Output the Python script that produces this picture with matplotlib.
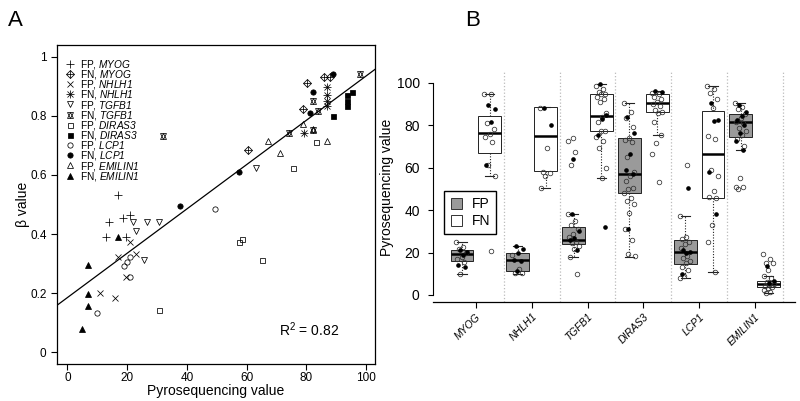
import numpy as np
import matplotlib
matplotlib.use('Agg')
import matplotlib.pyplot as plt
from matplotlib.lines import Line2D
from matplotlib.patches import Patch

plt.rcParams['font.family'] = ['Liberation Sans', 'DejaVu Sans']
plt.rcParams['mathtext.fontset'] = 'custom'
plt.rcParams['mathtext.rm'] = 'Liberation Sans'
plt.rcParams['mathtext.it'] = 'Liberation Sans:italic'
plt.rcParams['mathtext.sf'] = 'Liberation Sans:italic'

genes = ['MYOG', 'NHLH1', 'TGFB1', 'DIRAS3', 'LCP1', 'EMILIN1']

# ---- panel A: pyrosequencing value vs beta value ----
myog_fp_x = [16.9, 13.9, 18.6, 21.0, 13.0, 19.7]
myog_fp_y = [0.532, 0.442, 0.453, 0.464, 0.391, 0.391]
myog_fn_x = [80.1, 86.0, 87.9, 79.0, 60.3]
myog_fn_y = [0.913, 0.933, 0.931, 0.823, 0.685]
nhlh1_fp_x = [20.8, 16.9, 22.8, 19.7, 11.0, 15.8]
nhlh1_fp_y = [0.372, 0.323, 0.334, 0.253, 0.202, 0.184]
nhlh1_fn_x = [86.8, 86.8, 86.8, 86.8, 79.3]
nhlh1_fn_y = [0.899, 0.871, 0.851, 0.834, 0.741]
tgfb1_fp_x = [63.3, 21.9, 26.7, 30.6, 22.8, 25.8]
tgfb1_fp_y = [0.623, 0.442, 0.442, 0.442, 0.411, 0.312]
tgfb1_fn_x = [98.0, 82.3, 84.0, 74.1, 82.3, 32.0]
tgfb1_fn_y = [0.941, 0.851, 0.815, 0.741, 0.753, 0.732]
diras3_fp_x = [83.2, 75.4, 57.5, 58.4, 65.3, 30.6]
diras3_fp_y = [0.712, 0.623, 0.372, 0.382, 0.312, 0.142]
diras3_fn_x = [95.2, 93.7, 93.7, 93.7, 89.0]
diras3_fn_y = [0.882, 0.871, 0.851, 0.832, 0.800]
lcp1_fp_x = [49.3, 20.8, 20.0, 18.9, 20.8, 10.0]
lcp1_fp_y = [0.484, 0.323, 0.304, 0.293, 0.253, 0.133]
lcp1_fn_x = [89.0, 82.3, 81.2, 57.5, 37.8]
lcp1_fn_y = [0.942, 0.881, 0.811, 0.611, 0.495]
emilin1_fp_x = [79.0, 82.3, 86.8, 67.3, 71.1]
emilin1_fp_y = [0.772, 0.755, 0.715, 0.715, 0.673]
emilin1_fn_x = [16.9, 7.0, 7.0, 7.0, 4.9]
emilin1_fn_y = [0.389, 0.295, 0.196, 0.156, 0.077]

fit_intercept = 0.185
fit_slope = 0.0075
r_squared = 0.82

# ---- panel B: box plots per gene ----
fp_q1 = [15.9, 11.5, 23.9, 48.2, 14.6, 74.3]
fp_med = [19.5, 16.3, 26.1, 57.1, 20.4, 81.3]
fp_q3 = [21.0, 19.6, 32.0, 73.8, 25.9, 85.4]
fp_lo = [10.0, 10.0, 18.0, 17.9, 7.9, 68.3]
fp_hi = [24.8, 23.1, 38.2, 90.4, 37.2, 90.4]
fn_q1 = [66.7, 58.3, 77.3, 86.3, 45.7, 3.8]
fn_med = [76.5, 74.7, 84.3, 90.4, 66.3, 5.2]
fn_q3 = [84.3, 88.4, 94.5, 94.5, 86.8, 6.8]
fn_lo = [56.2, 50.3, 55.1, 75.2, 10.8, 1.1]
fn_hi = [94.5, 88.4, 99.4, 96.1, 98.6, 9.0]

# individual samples (open = hollow circle, filled = black dot)
myog_fp_open = [24.8, 22.4, 21.7, 19.6, 18.1, 17.0, 15.5, 10.0]
myog_fp_filled = [21.0, 20.4, 18.8, 14.3, 13.2]
myog_fn_open = [94.5, 94.5, 80.9, 78.2, 75.8, 74.3, 72.2, 61.1, 56.1, 20.9]
myog_fn_filled = [89.5, 87.5, 81.5, 61.1]
nhlh1_fp_open = [18.8, 12.1, 10.2, 10.2]
nhlh1_fp_filled = [22.9, 21.5, 19.9, 16.5, 16.0, 11.3]
nhlh1_fn_open = [88.2, 69.2, 58.1, 57.3, 56.1, 50.3]
nhlh1_fn_filled = [88.2, 80.2]
tgfb1_fp_open = [38.2, 35.0, 32.8, 30.9, 28.6, 27.5, 25.1, 24.3, 23.1, 21.8, 18.0, 9.9,
                 74.1, 72.7, 67.4, 61.1]
tgfb1_fp_filled = [38.2, 30.0, 26.7, 26.1, 21.2, 64.1]
tgfb1_fn_open = [98.6, 97.1, 95.8, 94.5, 94.5, 93.4, 92.2, 91.0, 85.6, 84.0, 81.4, 77.3,
                 77.3, 74.6, 72.6, 69.4, 60.0, 55.1]
tgfb1_fn_filled = [99.4, 84.8, 83.1, 75.1, 32.2]
diras3_fp_open = [90.4, 86.3, 83.2, 79.3, 74.1, 73.0, 72.1, 65.2, 58.1, 56.0, 53.7, 50.5,
                  49.8, 47.9, 45.9, 44.1, 42.8, 38.6, 31.1, 26.0, 19.5, 18.2]
diras3_fp_filled = [84.0, 76.5, 66.3, 58.9, 57.1, 31.1]
diras3_fn_open = [95.3, 94.5, 93.4, 92.2, 91.0, 89.7, 88.8, 87.2, 86.4, 85.6, 81.4, 75.2,
                  71.4, 66.3, 53.2]
diras3_fn_filled = [96.1, 95.6]
lcp1_fp_open = [37.2, 27.5, 26.4, 25.1, 24.0, 22.0, 18.5, 17.3, 16.2, 14.9, 13.4, 11.8,
                9.0, 7.9, 61.1]
lcp1_fp_filled = [21.2, 20.4, 19.6, 9.9, 50.3]
lcp1_fn_open = [98.6, 97.1, 95.3, 92.5, 88.1, 74.9, 73.6, 59.0, 56.0, 49.1, 46.3, 45.5,
                33.0, 25.0, 10.8]
lcp1_fn_filled = [90.6, 82.6, 82.0, 57.9, 38.2]
emilin1_fp_open = [90.4, 88.4, 87.5, 85.4, 83.2, 81.6, 80.8, 78.5, 77.3, 75.1, 73.4, 70.3,
                   55.3, 50.9, 50.9, 49.9]
emilin1_fp_filled = [89.5, 86.4, 84.3, 82.6, 80.1, 76.2, 72.3, 68.4]
emilin1_fn_open = [19.2, 17.1, 15.2, 15.2, 11.8, 9.0, 7.9, 6.2, 5.2, 4.7, 4.2, 3.8, 3.2,
                   2.4, 1.6, 1.1]
emilin1_fn_filled = [13.7, 6.8, 5.5]

fp_open = [myog_fp_open, nhlh1_fp_open, tgfb1_fp_open, diras3_fp_open, lcp1_fp_open, emilin1_fp_open]
fp_filled = [myog_fp_filled, nhlh1_fp_filled, tgfb1_fp_filled, diras3_fp_filled, lcp1_fp_filled, emilin1_fp_filled]
fn_open = [myog_fn_open, nhlh1_fn_open, tgfb1_fn_open, diras3_fn_open, lcp1_fn_open, emilin1_fn_open]
fn_filled = [myog_fn_filled, nhlh1_fn_filled, tgfb1_fn_filled, diras3_fn_filled, lcp1_fn_filled, emilin1_fn_filled]

fig = plt.figure(figsize=(8, 4.01), dpi=100)

# ================= panel A =================
axA = fig.add_axes([57 / 800, 37 / 401, 318 / 800, 319 / 401])
k = dict(linestyle='none', color='black', markerfacecolor='none', markeredgewidth=0.55)
series = [
    ('FP', 'MYOG', myog_fp_x, myog_fp_y, [dict(marker='+', markersize=5.5)]),
    ('FN', 'MYOG', myog_fn_x, myog_fn_y, [dict(marker='D', markersize=3.8), dict(marker='+', markersize=5.3)]),
    ('FP', 'NHLH1', nhlh1_fp_x, nhlh1_fp_y, [dict(marker='x', markersize=4)]),
    ('FN', 'NHLH1', nhlh1_fn_x, nhlh1_fn_y, [dict(marker='+', markersize=5.5), dict(marker='x', markersize=4)]),
    ('FP', 'TGFB1', tgfb1_fp_x, tgfb1_fp_y, [dict(marker='v', markersize=4.3)]),
    ('FN', 'TGFB1', tgfb1_fn_x, tgfb1_fn_y, [dict(marker='v', markersize=4.5), dict(marker='^', markersize=4.5)]),
    ('FP', 'DIRAS3', diras3_fp_x, diras3_fp_y, [dict(marker='s', markersize=3.6)]),
    ('FN', 'DIRAS3', diras3_fn_x, diras3_fn_y, [dict(marker='s', markersize=3.6, markerfacecolor='black')]),
    ('FP', 'LCP1', lcp1_fp_x, lcp1_fp_y, [dict(marker='o', markersize=3.8)]),
    ('FN', 'LCP1', lcp1_fn_x, lcp1_fn_y, [dict(marker='o', markersize=3.8, markerfacecolor='black')]),
    ('FP', 'EMILIN1', emilin1_fp_x, emilin1_fp_y, [dict(marker='^', markersize=4.3)]),
    ('FN', 'EMILIN1', emilin1_fn_x, emilin1_fn_y, [dict(marker='^', markersize=4.3, markerfacecolor='black')]),
]
handles, labels = [], []
for grp, gene, xs, ys, marks in series:
    hs = []
    for m in marks:
        st = dict(k)
        st.update(m)
        axA.plot(xs, ys, **st)
        hs.append(Line2D([], [], **st))
    handles.append(tuple(hs))
    labels.append(grp + ', $\\mathsf{' + gene + '}$')

axA.axline((0, fit_intercept), slope=fit_slope, color='black', lw=0.9)
axA.text(71, 0.055, 'R$^2$ = %.2f' % r_squared, fontsize=10)

axA.set_xlim(-3.5, 103)
axA.set_ylim(-0.04, 1.04)
axA.set_xticks([0, 20, 40, 60, 80, 100])
axA.set_yticks([0, 0.2, 0.4, 0.6, 0.8, 1.0])
axA.set_yticklabels(['0', '0.2', '0.4', '0.6', '0.8', '1'])
axA.tick_params(direction='out', length=4, width=0.8, labelsize=8.5)
axA.tick_params(axis='x', pad=1.5)
for s in axA.spines.values():
    s.set_linewidth(0.9)
axA.set_xlabel('Pyrosequencing value', fontsize=10, labelpad=0)
axA.set_ylabel('β value', fontsize=10, labelpad=0)
axA.legend(handles, labels, loc='upper left', bbox_to_anchor=(0.0, 0.985), frameon=False,
           fontsize=7.3, labelspacing=-0.28, handlelength=1.0, handletextpad=0.5,
           borderaxespad=0.4)

# ================= panel B =================
axB = fig.add_axes([433 / 800, 99 / 401, 362 / 800, 230 / 401])
pos = np.arange(1, len(genes) + 1)
off = 0.25
bw = 0.41

def stats(q1, med, q3, lo, hi):
    return [dict(q1=a, med=b, q3=c, whislo=d, whishi=e) for a, b, c, d, e in zip(q1, med, q3, lo, hi)]

for st, shift, face in [(stats(fp_q1, fp_med, fp_q3, fp_lo, fp_hi), -off, '#9a9a9a'),
                        (stats(fn_q1, fn_med, fn_q3, fn_lo, fn_hi), off, 'white')]:
    axB.bxp(st, positions=pos + shift, widths=bw, showfliers=False, patch_artist=True,
            capwidths=bw * 0.4,
            boxprops=dict(facecolor=face, edgecolor='#222222', linewidth=0.7),
            medianprops=dict(color='black', linewidth=1.8),
            whiskerprops=dict(color='#222222', linewidth=0.8, linestyle=(0, (1, 1.5))),
            capprops=dict(color='#222222', linewidth=0.8), zorder=2)

def jit(n, start):
    return ((np.arange(start, start + n) * 0.618034) % 1 - 0.5) * 0.2

for i in range(len(genes)):
    for lists, shift in [((fp_open, fp_filled), -off), ((fn_open, fn_filled), off)]:
        o, f = lists[0][i], lists[1][i]
        axB.plot(pos[i] + shift + jit(len(o), 0), o, 'o', markersize=3.3, markerfacecolor='none',
                 markeredgecolor='#333333', markeredgewidth=0.55, zorder=3)
        axB.plot(pos[i] + shift + jit(len(f), 7), f, 'o', markersize=2.3, color='black', zorder=4)

for x in pos + 0.5:
    axB.axvline(x, color='#bbbbbb', linestyle=':', linewidth=0.9, zorder=1)

axB.set_xlim(0.23, 6.72)
axB.set_ylim(-3.3, 105)
axB.spines['top'].set_visible(False)
axB.spines['right'].set_visible(False)
axB.spines['left'].set_bounds(0, 100)
axB.spines['left'].set_linewidth(0.8)
axB.spines['bottom'].set_linewidth(0.9)
axB.set_yticks([0, 20, 40, 60, 80, 100])
axB.set_xticks(pos)
axB.set_xticklabels(genes, rotation=45, ha='right', rotation_mode='anchor', style='italic',
                    fontsize=7.5)
axB.tick_params(axis='y', direction='out', length=3.6, width=0.8, labelsize=10, pad=6)
axB.tick_params(axis='x', direction='out', length=4, width=0.8, pad=3)
axB.set_ylabel('Pyrosequencing value', fontsize=10, labelpad=1.5)
axB.legend([Patch(facecolor='#9a9a9a', edgecolor='#333333', linewidth=0.7),
            Patch(facecolor='white', edgecolor='#333333', linewidth=0.7)],
           ['FP', 'FN'], loc='upper left', bbox_to_anchor=(0.02, 0.50), fontsize=10,
           fancybox=False, edgecolor='black', framealpha=1, handlelength=0.8,
           handleheight=0.8, handletextpad=0.7, borderpad=0.45, labelspacing=0.2,
           borderaxespad=0.3)

fig.text(0.01, 0.948, 'A', fontsize=16, va='center')
fig.text(0.582, 0.948, 'B', fontsize=16, va='center')

fig.savefig('out.png', dpi=100)
